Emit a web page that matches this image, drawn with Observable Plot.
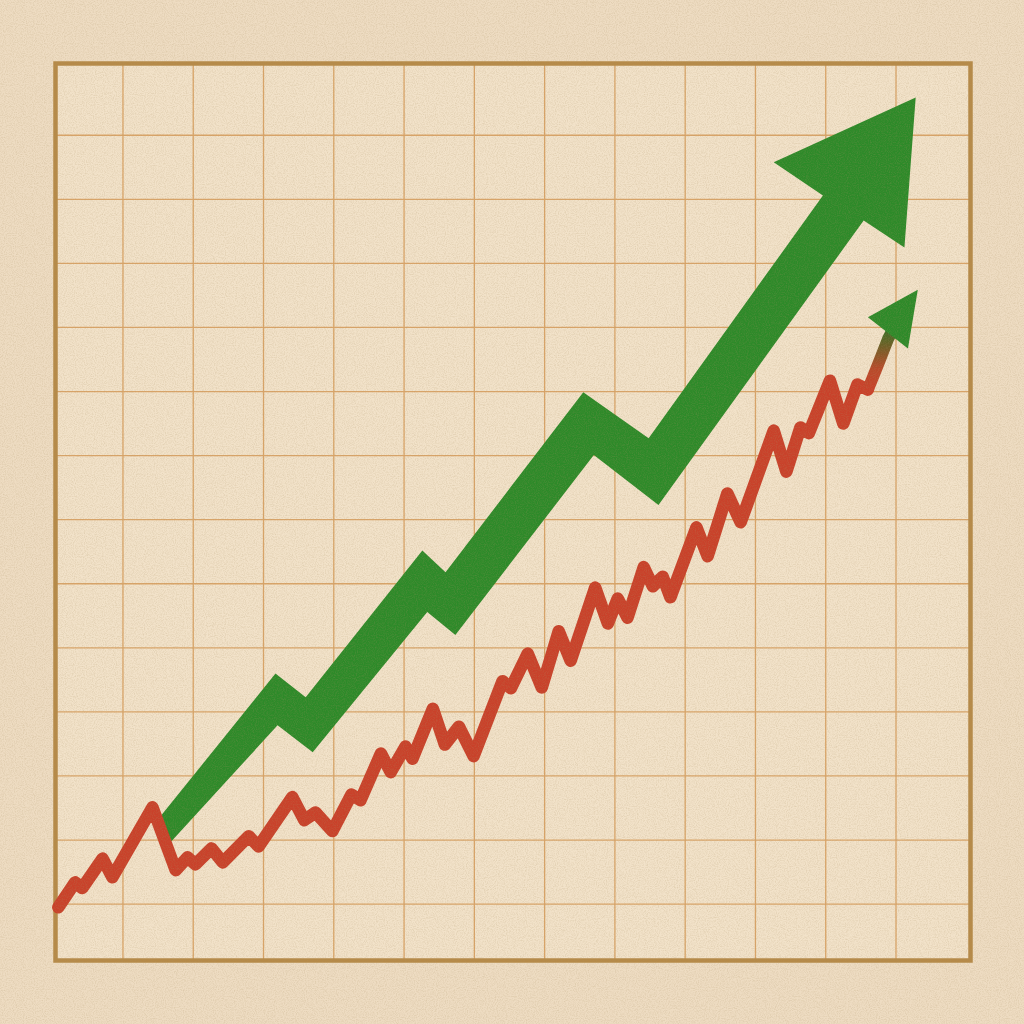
<!DOCTYPE html>
<html>
<head>
<meta charset="utf-8">
<script src="https://cdn.jsdelivr.net/npm/d3@7"></script>
<script src="https://cdn.jsdelivr.net/npm/@observablehq/plot@0.6"></script>
<style>
  html, body { margin: 0; padding: 0; background: #eedcc2; }
  #chart { width: 1024px; height: 1024px; }
</style>
</head>
<body>
<div id="chart"></div>
<script>
// Grid tick positions (grid units)
const gridXTicks = [1, 2, 3, 4, 5, 6, 7, 8, 9, 10, 11, 12];
const gridYTicks = [1, 2, 3, 4, 5, 6, 7, 8, 9, 10, 11, 12, 13];

// Red jagged series
const redX = [0.08, 0.32, 0.42, 0.71, 0.85, 1.42, 1.75, 1.92, 2.03, 2.26, 2.42, 2.79, 2.93,
  3.41, 3.58, 3.74, 3.98, 4.25, 4.38, 4.67, 4.81, 5.02, 5.12, 5.41, 5.58, 5.78, 5.99,
  6.40, 6.52, 6.76, 6.96, 7.20, 7.37, 7.72, 7.90, 8.04, 8.18, 8.41, 8.54, 8.68, 8.79,
  9.16, 9.32, 9.60, 9.79, 10.26, 10.44, 10.64, 10.76, 11.06, 11.25, 11.45, 11.60];
const redY = [0.95, 1.34, 1.25, 1.71, 1.42, 2.51, 1.53, 1.73, 1.62, 1.87, 1.65, 2.06, 1.90,
  2.67, 2.31, 2.43, 2.14, 2.71, 2.62, 3.35, 3.06, 3.46, 3.27, 4.05, 3.49, 3.77, 3.31,
  4.48, 4.37, 4.91, 4.38, 5.26, 4.80, 5.94, 5.38, 5.77, 5.47, 6.26, 5.96, 6.11, 5.79,
  6.88, 6.43, 7.41, 6.96, 8.39, 7.75, 8.44, 8.35, 9.17, 8.50, 9.11, 9.03];

// Red series final stretch that fades into green
const fadeX = [11.60, 11.74, 11.89, 11.95];
const fadeY = [9.03, 9.41, 9.83, 9.95];

// Small arrowhead on the red series
const smallHeadX = [11.60, 12.31, 12.17];
const smallHeadY = [10.16, 10.59, 9.67];

// Big green zigzag arrow outline
const greenX = [1.52, 3.17, 3.60, 5.26, 5.59, 7.55, 8.48, 10.96, 10.26, 12.28, 12.12, 11.54,
  8.62, 7.70, 5.73, 5.33, 3.70, 3.20, 1.69];
const greenY = [2.35, 4.60, 4.23, 6.52, 6.18, 8.99, 8.27, 12.06, 12.58, 13.59, 11.25, 11.67,
  7.23, 8.01, 5.20, 5.56, 3.37, 3.79, 1.98];

const red = redX.map((x, i) => ({x, y: redY[i]}));
const fade = fadeX.map((x, i) => ({x, y: fadeY[i]}));
const smallHead = smallHeadX.map((x, i) => ({x, y: smallHeadY[i]}));
const green = greenX.map((x, i) => ({x, y: greenY[i]}));

const GREEN = "#2d8a29";
const RED = "#c9412a";

const chart = Plot.plot({
  width: 1024,
  height: 1024,
  marginLeft: 55,
  marginRight: 54,
  marginTop: 63,
  marginBottom: 64,
  x: {domain: [0.04, 13.06], axis: null},
  y: {domain: [0.12, 14.12], axis: null},
  style: {background: "transparent", overflow: "visible"},
  marks: [
    Plot.frame({fill: "#f2e2c9", stroke: "none"}),
    Plot.ruleX(gridXTicks, {stroke: "#d9a468", strokeWidth: 1.3}),
    Plot.ruleY(gridYTicks, {stroke: "#d9a468", strokeWidth: 1.3}),
    Plot.frame({stroke: "#b68a48", strokeWidth: 4.5}),
    Plot.line(green, {x: "x", y: "y", fill: GREEN, stroke: "none", curve: "linear-closed"}),
    Plot.line(red, {x: "x", y: "y", stroke: RED, strokeWidth: 12.5, strokeLinejoin: "round", strokeLinecap: "round"}),
    Plot.line(fade, {x: "x", y: "y", stroke: "url(#fadeGrad)", strokeWidth: 12, strokeLinejoin: "round", strokeLinecap: "butt"}),
    Plot.line(smallHead, {x: "x", y: "y", fill: GREEN, stroke: "none", curve: "linear-closed"})
  ]
});

const svg = d3.select(chart);
const defs = svg.insert("defs", ":first-child");
const grad = defs.append("linearGradient")
  .attr("id", "fadeGrad").attr("x1", 0).attr("y1", 1).attr("x2", 0).attr("y2", 0);
grad.append("stop").attr("offset", 0).attr("stop-color", RED);
grad.append("stop").attr("offset", 0.35).attr("stop-color", "#b84a2a");
grad.append("stop").attr("offset", 1).attr("stop-color", "#3d6e25");

const noise = defs.append("filter").attr("id", "noise")
  .attr("x", 0).attr("y", 0).attr("width", "100%").attr("height", "100%")
  .attr("filterUnits", "userSpaceOnUse");
noise.append("feTurbulence").attr("type", "fractalNoise").attr("baseFrequency", 0.9)
  .attr("numOctaves", 2).attr("seed", 7).attr("stitchTiles", "stitch");
noise.append("feColorMatrix").attr("type", "matrix")
  .attr("values", "0 0 0 0 0.42  0 0 0 0 0.30  0 0 0 0 0.14  0 0 0 1.6 -0.62");

svg.append("rect")
  .attr("x", 0).attr("y", 0).attr("width", 1024).attr("height", 1024)
  .attr("filter", "url(#noise)")
  .attr("opacity", 0.3)
  .attr("pointer-events", "none");

document.getElementById("chart").appendChild(chart);
</script>
</body>
</html>
